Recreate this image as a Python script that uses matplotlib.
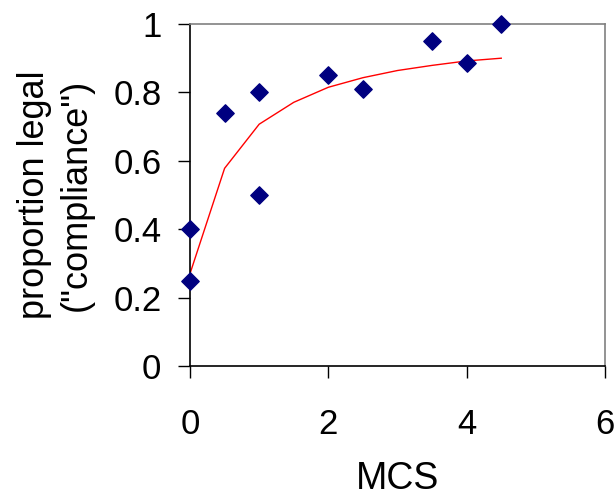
import matplotlib.pyplot as plt

plt.rcParams['font.family'] = ['Liberation Sans', 'DejaVu Sans']

# observed points
mcs = [0, 0, 0.5, 1, 1, 2, 2.5, 3.5, 4, 4.5]
legal = [0.40, 0.25, 0.74, 0.80, 0.50, 0.85, 0.81, 0.95, 0.885, 1.0]

# fitted curve
fit_x = [0, 0.5, 1, 1.5, 2, 2.5, 3, 3.5, 4, 4.5]
fit_y = [0.27, 0.578, 0.707, 0.771, 0.815, 0.843, 0.864, 0.879, 0.892, 0.900]

fig = plt.figure(figsize=(6.15, 4.97), dpi=100)
ax = fig.add_axes([190 / 615, 1 - 366 / 497, 415 / 615, 342 / 497])

ax.plot(fit_x, fit_y, color='red', lw=1, zorder=2)
ax.scatter(mcs, legal, marker='D', s=78, color='#000080', zorder=3, clip_on=False)

ax.set_xlim(0, 6)
ax.set_ylim(0, 1)
ax.set_xticks([0, 2, 4, 6])
ax.set_yticks([0, 0.2, 0.4, 0.6, 0.8, 1])
ax.set_yticklabels(['0', '0.2', '0.4', '0.6', '0.8', '1'])

for s in ['left', 'bottom']:
    ax.spines[s].set_color('black')
    ax.spines[s].set_linewidth(1.2)
for s in ['top', 'right']:
    ax.spines[s].set_color('#808080')
    ax.spines[s].set_linewidth(1.2)

ax.tick_params(direction='out', length=8.6, width=1, labelsize=25)
ax.tick_params(axis='x', pad=22)
ax.tick_params(axis='y', pad=12)
ax.set_xlabel('MCS', fontsize=27, labelpad=14)
ax.set_ylabel('proportion legal\n("compliance")', fontsize=26, linespacing=1.25)
ax.yaxis.set_label_coords(-0.232, 0.5)

fig.savefig('out.png', dpi=100)
